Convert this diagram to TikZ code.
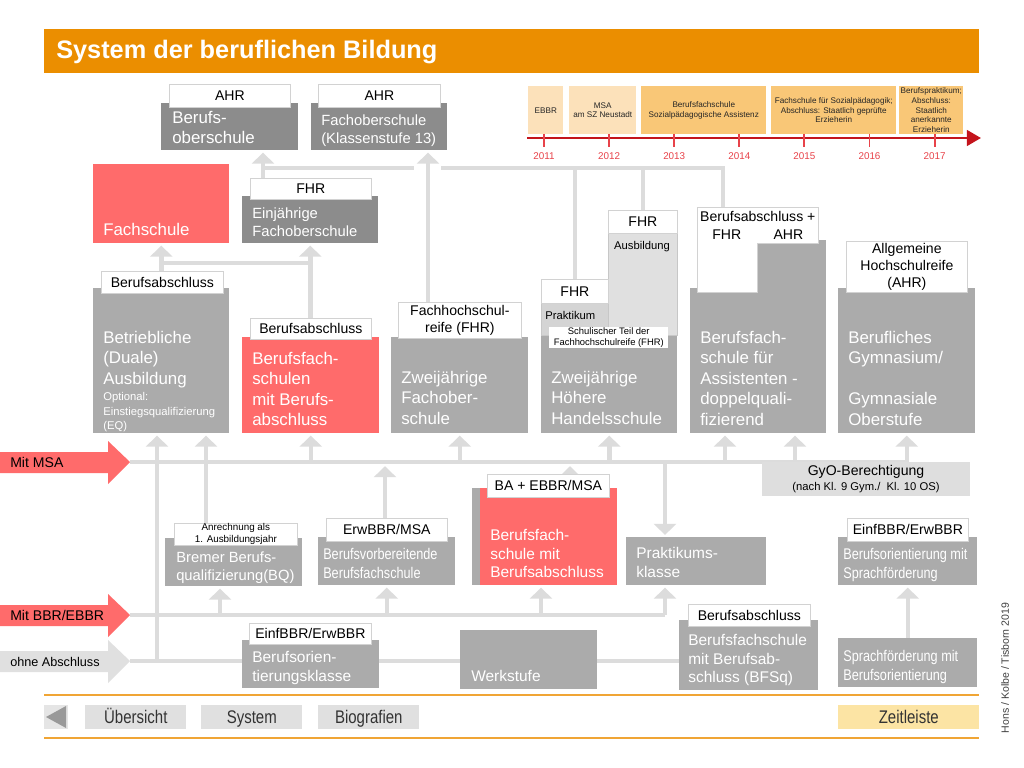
\documentclass[tikz,border=0pt]{standalone}
\usepackage{fontspec}
\setmainfont{Liberation Sans}
\newfontfamily\narrowfont[FakeStretch=0.82]{Liberation Sans}
\usetikzlibrary{arrows.meta, backgrounds}
\definecolor{titleorange}{HTML}{EB8E00}
\definecolor{navorange}{HTML}{F0A535}
\definecolor{boxdark}{HTML}{8C8C8C}
\definecolor{boxmid}{HTML}{ABABAB}
\definecolor{boxred}{HTML}{FF6B6B}
\definecolor{linegray}{HTML}{DCDCDC}
\definecolor{labelline}{HTML}{D2D2D2}
\definecolor{tlstrong}{HTML}{F9C777}
\definecolor{tllight}{HTML}{FCE1BA}
\definecolor{tlred}{HTML}{C4141C}
\definecolor{yearred}{HTML}{E8434A}
\definecolor{navgray}{HTML}{E0E0E0}
\definecolor{navyellow}{HTML}{FCE4A4}
\newlength\pxu
\setlength\pxu{0.025cm}
\tikzset{
	sz/.style 2 args={minimum width=#1\pxu, minimum height=#2\pxu},
	box/.style={inner sep=0pt, anchor=north west},
	dbox/.style={box, fill=boxdark},
	mbox/.style={box, fill=boxmid},
	rbox/.style={box, fill=boxred},
	lbl/.style={box, fill=white, draw=labelline, line width=0.5pt, align=center, font=\fontsize{10}{12}\selectfont},
	tlbox/.style={box, align=center, text=black!85, font=\fontsize{5.8}{6.9}\selectfont},
	txt/.style={inner sep=0pt, anchor=north west, align=left, text=white},
	bigtxt/.style={txt, font=\fontsize{12}{14.5}\selectfont},
	medtxt/.style={txt, font=\fontsize{10.5}{12.8}\selectfont},
	bottxt/.style={txt, font=\fontsize{11}{13.3}\selectfont},
	nartxt/.style={txt, font=\narrowfont\fontsize{11}{13.5}\selectfont},
	smalltxt/.style={txt, font=\fontsize{8}{10.5}\selectfont},
	entrytxt/.style={inner sep=0pt, anchor=west, font=\fontsize{10}{12}\selectfont},
	yearlbl/.style={inner sep=0pt, text=yearred, font=\fontsize{7}{8}\selectfont},
	yeartick/.style={draw=yearred, line width=1.3pt},
	cline/.style={draw=linegray, line width=3.2pt},
	carr/.style={cline, -{Triangle[width=15.6pt, length=7.8pt]}, shorten >=1.5pt},
	navbtn/.style={box, fill=navgray, text=black!80, text height=11.5pt, text depth=2.5pt, font=\narrowfont\fontsize{13}{15}\selectfont},
	navline/.style={draw=navorange, line width=1.5pt},
}
\begin{document}
\begin{tikzpicture}[x=0.025cm, y=-0.025cm]
	\useasboundingbox (0,0) rectangle (1024,768);
	\fill[titleorange] (44,29) rectangle (979,73);
	\node[inner sep=0pt, anchor=west, text=white, font=\bfseries\fontsize{18}{20}\selectfont] (title) at (56,52) {System der beruflichen Bildung};

	\node[tlbox, fill=tllight, sz={35}{48}] (tebbr) at (528,86) {EBBR};
	\node[tlbox, fill=tllight, sz={67}{48}] (tmsa) at (569,86) {MSA\\am SZ Neustadt};
	\node[tlbox, fill=tlstrong, sz={125}{48}] (tbfs) at (641,86) {Berufsfachschule\\Sozialpädagogische Assistenz};
	\node[tlbox, fill=tlstrong, sz={125}{48}] (tfs) at (771,86) {Fachschule für Sozialpädagogik;\\Abschluss: Staatlich geprüfte\\Erzieherin};
	\node[tlbox, fill=tlstrong, sz={64}{48}] (tbp) at (899,86) {Berufspraktikum;\\Abschluss:\\Staatlich\\anerkannte\\Erzieherin};
	\coordinate (tls) at (527,138);
	\coordinate (tle) at (981,138);
	\draw[tlred, line width=2pt, -{Triangle[width=11pt, length=10pt]}] (tls) -- (tle);
	\foreach \yr [count=\i from 0] in {2011,2012,2013,2014,2015,2016,2017} {
		\pgfmathsetmacro\tx{544+65.1*\i}
		\draw[yeartick] (\tx,134) -- (\tx,147);
		\node[yearlbl] (y\yr) at (\tx,156) {\yr};
	}

	\node[dbox, sz={137}{47}] (bos) at (161,103) {};
	\node[lbl, sz={121}{23}] (lahr1) at (169,84) {AHR};
	\node[bigtxt] (bost) at (172,111) {Berufs-\\oberschule};
	\node[dbox, sz={136}{47}] (fos) at (311,103) {};
	\node[lbl, sz={122}{23}] (lahr2) at (318,84) {AHR};
	\node[medtxt] (fost) at (321,115) {Fachoberschule\\(Klassenstufe 13)};
	\node[rbox, sz={136}{79}] (fs) at (93,164) {};
	\node[bigtxt] (fst) at (103,223) {Fachschule};
	\node[dbox, sz={136}{47}] (efos) at (242,196) {};
	\node[lbl, sz={121}{21}] (lfhr1) at (250,178) {FHR};
	\node[medtxt] (efost) at (252,208) {Einjährige\\Fachoberschule};

	\node[mbox, sz={136}{145}] (bda) at (93,288) {};
	\node[lbl, sz={122}{22}] (lba1) at (101,271) {Berufsabschluss};
	\node[bigtxt] (bdat) at (103,331) {Betriebliche\\(Duale)\\Ausbildung};
	\node[smalltxt] (bdas) at (103,392) {Optional:\\Einstiegsqualifizierung\\(EQ)};
	\node[rbox, sz={137}{96}] (bfs) at (242,337) {};
	\node[lbl, sz={121}{21}] (lba2) at (250,318) {Berufsabschluss};
	\node[bigtxt] (bfst) at (252,352) {Berufsfach-\\schulen\\mit Berufs-\\abschluss};
	\node[mbox, sz={137}{96}] (zfos) at (391,337) {};
	\node[lbl, sz={123}{36}] (lfhr2) at (398,302) {Fachhochschul-\\reife (FHR)};
	\node[bigtxt] (zfost) at (401,371) {Zweijährige\\Fachober-\\schule};

	\node[mbox, sz={136}{98}] (hhs) at (541,335) {};
	\node[box, fill=black!17, draw=black!22, line width=0.5pt, sz={67}{32}] (prak) at (541,303) {};
	\node[box, fill=black!12, draw=black!22, line width=0.5pt, sz={69}{102}] (ausb) at (608,233) {};
	\node[lbl, sz={67}{24}] (lfhr3) at (541,279) {FHR};
	\node[lbl, sz={69}{23}] (lfhr4) at (608,210) {FHR};
	\node[inner sep=0pt, anchor=west, font=\fontsize{8}{9}\selectfont] (prakt) at (545,315) {Praktikum};
	\node[inner sep=0pt, font=\fontsize{8}{9}\selectfont] (ausbt) at (642,247) {Ausbildung};
	\node[box, fill=white, align=center, font=\fontsize{6.7}{8}\selectfont, sz={119}{21}] (lsch) at (549,327) {Schulischer Teil der\\Fachhochschulreife (FHR)};
	\node[bigtxt] (hhst) at (551,371) {Zweijährige\\Höhere\\Handelsschule};

	\node[mbox, sz={136}{145}] (bfa) at (690,288) {};
	\node[mbox, sz={69}{193}] (bfa2) at (757,240) {};
	\filldraw[fill=white, draw=labelline, line width=0.5pt] (697,207) -- (818,207) -- (818,243) -- (757,243) -- (757,292) -- (697,292) -- cycle;
	\node[box, align=center, font=\fontsize{10}{12.5}\selectfont, sz={121}{36}] (lbfa) at (697,207) {Berufsabschluss +\\FHR\hspace{23pt}AHR};
	\node[bigtxt] (bfat) at (700,331) {Berufsfach-\\schule für\\Assistenten -\\doppelquali-\\fizierend};
	\node[mbox, sz={137}{145}] (bg) at (838,288) {};
	\node[lbl, sz={121}{51}] (lbg) at (846,241) {Allgemeine\\Hochschulreife\\(AHR)};
	\node[bigtxt] (bgt) at (848,331) {Berufliches\\Gymnasium/\\\mbox{}\\Gymnasiale\\Oberstufe};

	\node[box, fill=black!13, sz={208}{34}] (gyo) at (762,462) {};
	\node[inner sep=0pt, font=\fontsize{10}{12}\selectfont] (gyot) at (866,472) {GyO-Berechtigung};
	\node[inner sep=0pt, font=\fontsize{8}{9.6}\selectfont] (gyos) at (866,488) {(nach Kl. 9 Gym./\ \ Kl. 10 OS)};

	\node[mbox, sz={137}{48}] (bq) at (165,538) {};
	\node[lbl, sz={123}{22}, font=\fontsize{7}{8.4}\selectfont] (lbq) at (174,523) {Anrechnung als\\1. Ausbildungsjahr};
	\node[medtxt] (bqt) at (176,552) {Bremer Berufs-\\qualifizierung(BQ)};
	\node[mbox, sz={137}{48}] (bv) at (318,537) {};
	\node[lbl, sz={121}{23}] (lbv) at (326,518) {ErwBBR/MSA};
	\node[nartxt] (bvt) at (323,548) {Berufsvorbereitende\\Berufsfachschule};
	\node[mbox, sz={145}{97}] (bfsba) at (472,488) {};
	\node[rbox, sz={137}{97}] (bfsbar) at (480,488) {};
	\node[lbl, sz={122}{23}] (lbfsba) at (487,474) {BA + EBBR/MSA};
	\node[bottxt] (bfsbat) at (490,529) {Berufsfach-\\schule mit\\Berufsabschluss};
	\node[mbox, sz={140}{48}] (pk) at (626,537) {};
	\node[bottxt] (pkt) at (636,547) {Praktikums-\\klasse};
	\node[mbox, sz={139}{48}] (bom) at (838,537) {};
	\node[lbl, sz={121}{23}] (lbom) at (847,518) {EinfBBR/ErwBBR};
	\node[nartxt] (bomt) at (843,548) {Berufsorientierung mit\\Sprachförderung};
	\node[mbox, sz={137}{48}] (bok) at (242,640) {};
	\node[lbl, sz={122}{21}] (lbok) at (249,623) {EinfBBR/ErwBBR};
	\node[bottxt] (bokt) at (252,651) {Berufsorien-\\tierungsklasse};
	\node[mbox, sz={137}{59}] (ws) at (460,630) {};
	\node[bottxt] (wst) at (471,670) {Werkstufe};
	\node[mbox, sz={139}{70}] (bfsq) at (679,620) {};
	\node[lbl, sz={122}{22}] (lbfsq) at (688,604) {Berufsabschluss};
	\node[bottxt] (bfsqt) at (688,634) {Berufsfachschule\\mit Berufsab-\\schluss (BFSq)};
	\node[mbox, sz={139}{49}] (sfb) at (838,638) {};
	\node[nartxt] (sfbt) at (843,650) {Sprachförderung mit\\Berufsorientierung};

	\coordinate (lmsa) at (130,462);
	\coordinate (lbbr) at (130,615);
	\coordinate (lohne) at (130,661);
	\fill[boxred] (0,452) -- (108,452) -- (108,441) -- (lmsa) -- (108,484) -- (108,473) -- (0,473) -- cycle;
	\fill[boxred] (0,605) -- (108,605) -- (108,594) -- (lbbr) -- (108,637) -- (108,626) -- (0,626) -- cycle;
	\fill[navgray] (0,651) -- (108,651) -- (108,640) -- (lohne) -- (108,683) -- (108,672) -- (0,672) -- cycle;
	\node[entrytxt] (emsa) at (10,462) {Mit MSA};
	\node[entrytxt] (ebbr) at (10,615) {Mit BBR/EBBR};
	\node[entrytxt, font=\fontsize{9}{11}\selectfont] (eohne) at (10,662) {ohne Abschluss};

	\draw[navline] (44,695) -- (979,695);
	\draw[navline] (44,738) -- (979,738);
	\fill[black!10] (44,705) rectangle (68,729);
	\fill[black!40] (46,717) -- (66,706) -- (66,728) -- cycle;
	\node[navbtn, sz={101}{24}] (nueb) at (85,705) {Übersicht};
	\node[navbtn, sz={101}{24}] (nsys) at (201,705) {System};
	\node[navbtn, sz={101}{24}] (nbio) at (318,705) {Biografien};
	\node[navbtn, fill=navyellow, sz={141}{24}] (nzeit) at (838,705) {Zeitleiste};
	\node[rotate=90, inner sep=0pt, text=black!75, font=\fontsize{7.5}{9}\selectfont] (credit) at (1005,668) {Hons / Kolbe / Tisborn 2019};

	\begin{scope}[on background layer]
		\fill[white] (0,0) rectangle (1024,768);
		\coordinate (kbo) at (263,168);
		\coordinate (kgl) at (414,168);
		\coordinate (kgr) at (441,168);
		\coordinate (kas) at (723,168);
		\coordinate (kfos) at (428,168);
		\coordinate (kmid) at (161,263);
		\draw[cline] (kbo |- lfhr1.north) -- (kbo) -- (kgl);
		\draw[cline] (kgr) -- (kas) -- (kas |- lbfa.north);
		\draw[cline] (lfhr3.north |- kbo) -- (lfhr3.north);
		\draw[cline] (lfhr4.north |- kbo) -- (lfhr4.north);
		\draw[carr] (kbo) -- (kbo |- bos.south);
		\draw[carr] (kfos |- lfhr2.north) -- (kfos |- fos.south);
		\draw[carr] (fs.south |- lba1.north) -- (fs.south);
		\draw[carr] (efos.south |- lba2.north) -- (efos.south);
		\draw[cline] (fs.south |- kmid) -- (efos.south |- kmid);

		\draw[cline] (lmsa) -- (bg.south |- lmsa);
		\draw[cline] (lbbr) -- (665,0 |- lbbr);
		\draw[cline] (lohne) -- (bfsq.west |- lohne);
		\foreach \n in {bfs,zfos,hhs,bg} \draw[carr] (\n.south |- lmsa) -- (\n.south);
		\foreach \x in {725,795} \draw[carr] (\x,0 |- lmsa) -- (\x,0 |- bfa.south);
		\draw[carr] (157,0 |- lohne) -- (157,0 |- bda.south);
		\draw[carr] (206,0 |- lbq.north) -- (206,0 |- bda.south);
		\draw[carr] (665,0 |- lmsa) -- (665,0 |- pk.north);
		\draw[carr, shorten >=3pt] (385,0 |- lbv.north) -- (385,0 |- lmsa);
		\draw[carr, shorten >=3pt] (570,0 |- lbfsba.north) -- (570,0 |- lmsa);
		\draw[carr] (220,0 |- lbbr) -- (220,0 |- bq.south);
		\draw[carr] (bv.south |- lbbr) -- (bv.south);
		\draw[carr] (541,0 |- lbbr) -- (541,0 |- bfsba.south);
		\draw[carr] (665,0 |- lbbr) -- (665,0 |- pk.south);
		\draw[carr] (sfb.north) -- (bom.south);
	\end{scope}
\end{tikzpicture}
\end{document}
